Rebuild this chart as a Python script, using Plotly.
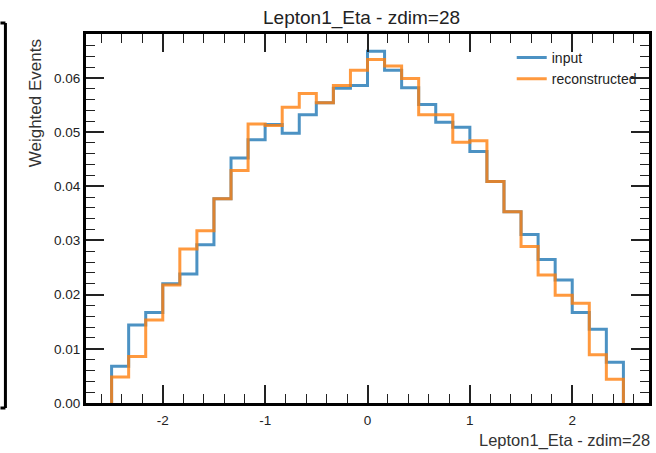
import numpy as np
import plotly.graph_objects as go

# ---- data ----
bin_low, bin_high, n_bins = -2.5, 2.5, 30
input_vals = [0.0068, 0.0144, 0.0167, 0.0220, 0.0238, 0.0292, 0.0377, 0.0452, 0.0486, 0.0514,
              0.0498, 0.0532, 0.0554, 0.0581, 0.0586, 0.0649, 0.0614, 0.0582, 0.0551, 0.0518,
              0.0509, 0.0464, 0.0409, 0.0353, 0.0311, 0.0265, 0.0227, 0.0167, 0.0136, 0.0075]
recon_vals = [0.0048, 0.0086, 0.0153, 0.0218, 0.0284, 0.0318, 0.0377, 0.0429, 0.0515, 0.0512,
              0.0546, 0.0571, 0.0554, 0.0586, 0.0614, 0.0634, 0.0622, 0.0599, 0.0532, 0.0532,
              0.0481, 0.0484, 0.0409, 0.0353, 0.0289, 0.0236, 0.0199, 0.0184, 0.0089, 0.0044]
series_names = ["input", "reconstructed"]
x_tick_vals = [-2, -1, 0, 1, 2]
x_tick_text = ["-2", "-1", "0", "1", "2"]
y_tick_vals = [0.0, 0.01, 0.02, 0.03, 0.04, 0.05, 0.06]
y_tick_text = ["0.00", "0.01", "0.02", "0.03", "0.04", "0.05", "0.06"]
title_text = "Lepton1_Eta - zdim=28"
x_label = "Lepton1_Eta - zdim=28"
y_label = "Weighted Events"

edges = np.linspace(bin_low, bin_high, n_bins + 1)


def step_xy(vals):
    xs = [edges[0]] + list(edges[:-1]) + [edges[-1]]
    ys = [0.0] + list(vals) + [0.0]
    return xs, ys


FONT = "Liberation Sans, Arial, sans-serif"
colors = ["rgba(31,119,180,0.8)", "rgba(255,127,14,0.8)"]

fig = go.Figure()
for name, vals, col in zip(series_names, [input_vals, recon_vals], colors):
    xs, ys = step_xy(vals)
    fig.add_trace(go.Scatter(x=xs, y=ys, mode="lines", name=name,
                             line=dict(color=col, width=3, shape="hv")))

W, H = 656, 453
ml, mr, mt, mb = 86, 4, 34, 50
pw, ph = W - ml - mr, H - mt - mb


def px_x(p):
    return (p - ml) / pw


def px_y(p):
    return (H - mb - p) / ph


axis_common = dict(
    showgrid=False, zeroline=False,
    showline=True, linewidth=3, linecolor="black", mirror="allticks",
    ticks="inside", ticklen=18, tickwidth=1.5, tickcolor="#222",
    tickfont=dict(family=FONT, size=13.5, color="#222"),
)

fig.update_layout(
    width=W, height=H,
    margin=dict(l=ml, r=mr, t=mt, b=mb, pad=0),
    paper_bgcolor="white", plot_bgcolor="white",
    font=dict(family=FONT, color="#222"),
    title=dict(text=title_text, x=px_x(363), xref="paper", xanchor="center",
               y=1 - 17 / H, yanchor="middle", font=dict(size=19, family=FONT, color="#222")),
    xaxis=dict(range=[-2.75, 2.75], tickmode="array", tickvals=x_tick_vals, ticktext=x_tick_text,
               ticklabelstandoff=3,
               minor=dict(tickmode="linear", tick0=0, dtick=0.2, ticks="inside", ticklen=9,
                          tickwidth=1.2, tickcolor="#222"),
               **axis_common),
    yaxis=dict(range=[0, 0.0681], tickmode="array", tickvals=y_tick_vals, ticktext=y_tick_text,
               minor=dict(tickmode="linear", tick0=0, dtick=0.002, ticks="inside", ticklen=9,
                          tickwidth=1.2, tickcolor="#222"),
               **axis_common),
    legend=dict(x=px_x(514), y=px_y(42), xanchor="left", yanchor="top",
                bgcolor="rgba(0,0,0,0)", borderwidth=0,
                font=dict(family=FONT, size=14, color="#222")),
    showlegend=True,
)

fig.add_annotation(text=y_label, textangle=-90, xref="paper", yref="paper",
                   x=px_x(35), y=px_y(37), xanchor="center", yanchor="top", showarrow=False,
                   font=dict(family=FONT, size=17, color="#333"))
fig.add_annotation(text=x_label, xref="paper", yref="paper",
                   x=px_x(655), y=px_y(441), xanchor="right", yanchor="middle", showarrow=False,
                   font=dict(family=FONT, size=16.5, color="#333"))

# fragment of neighbouring panel frame at the left edge
for x0, y0, x1, y1 in [(5, 23, 5, 408), (0, 23, 5, 23), (0, 408, 5, 408)]:
    fig.add_shape(type="line", xref="paper", yref="paper",
                  x0=px_x(x0), y0=px_y(y0), x1=px_x(x1), y1=px_y(y1),
                  line=dict(color="black", width=3))

fig.write_html("out.html")
